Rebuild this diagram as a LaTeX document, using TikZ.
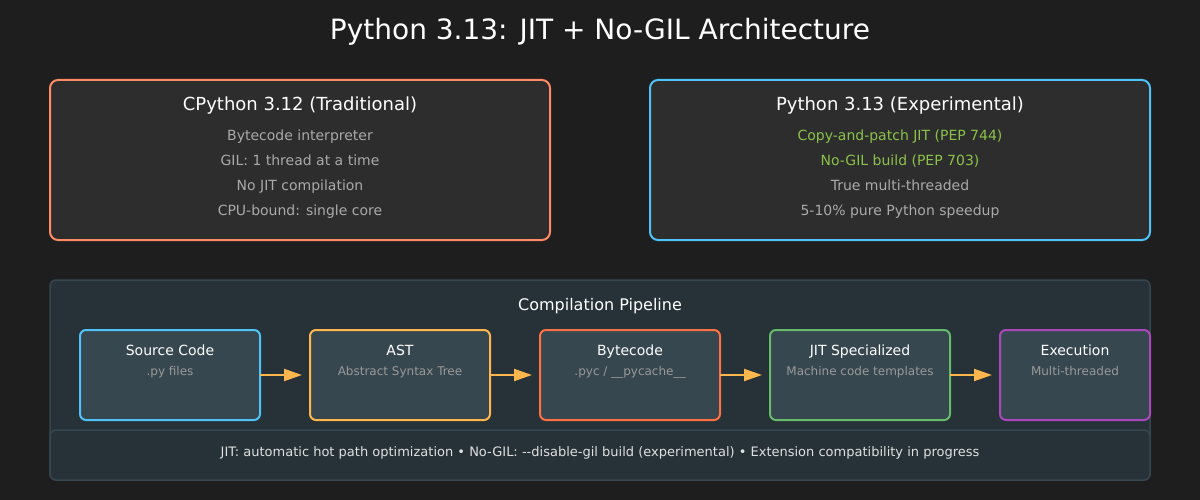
\documentclass[tikz,border=0pt]{standalone}
\usepackage{fontspec}
\setmainfont{DejaVu Sans}
\usetikzlibrary{arrows.meta}
\definecolor{bg}{HTML}{1E1E1E}
\definecolor{panel}{HTML}{2D2D2D}
\definecolor{pipe}{HTML}{263238}
\definecolor{pipeline}{HTML}{37474F}
\definecolor{stagefill}{HTML}{37474F}
\definecolor{cold}{HTML}{FF8A65}
\definecolor{cnew}{HTML}{4FC3F7}
\definecolor{cast}{HTML}{FFB74D}
\definecolor{cbyte}{HTML}{FF7043}
\definecolor{cjit}{HTML}{66BB6A}
\definecolor{cexec}{HTML}{AB47BC}
\definecolor{greentxt}{HTML}{8BC34A}
\definecolor{greytxt}{HTML}{AAAAAA}
\definecolor{subtxt}{HTML}{999999}
\definecolor{foottxt}{HTML}{E0E0E0}
\definecolor{arrowc}{HTML}{FFB74D}
\tikzset{
  panelbox/.style={draw=#1, line width=2pt, fill=panel, rounded corners=8pt},
  stagebox/.style={draw=#1, line width=2pt, fill=stagefill, rounded corners=6pt},
  ttl/.style={anchor=base, text=white, font=\fontsize{28}{32}\selectfont, inner sep=0pt},
  ptitle/.style={anchor=base, text=white, font=\fontsize{18}{21}\selectfont, inner sep=0pt},
  pline/.style={anchor=base, text=greytxt, font=\fontsize{14}{17}\selectfont, inner sep=0pt},
  pipetitle/.style={anchor=base, text=white, font=\fontsize{16}{19}\selectfont, inner sep=0pt},
  stitle/.style={anchor=base, text=white, font=\fontsize{14}{17}\selectfont, inner sep=0pt},
  ssub/.style={anchor=base, text=subtxt, font=\fontsize{12}{14}\selectfont, inner sep=0pt},
  foottext/.style={anchor=base, text=foottxt, font=\fontsize{13}{16}\selectfont, inner sep=0pt},
  flow/.style={draw=arrowc, line width=2pt, -{Triangle[length=18pt,width=12pt]}},
}
\begin{document}
\begin{tikzpicture}[x=1pt,y=-1pt]
\fill[bg] (0,0) rectangle (1200,500);
\useasboundingbox (0,0) rectangle (1200,500);

\node[ttl] (title) at (600,40) {Python 3.13: JIT + No-GIL Architecture};

% left panel
\draw[panelbox=cold] (50,80) rectangle (550,240);
\node[ptitle] (lt) at (300,110.5) {CPython 3.12 (Traditional)};
\node[pline] (l1) at (300,140.5) {Bytecode interpreter};
\node[pline] (l2) at (300,165.5) {GIL: 1 thread at a time};
\node[pline] (l3) at (300,190.5) {No JIT compilation};
\node[pline] (l4) at (300,215.5) {CPU-bound: single core};

% right panel
\draw[panelbox=cnew] (650,80) rectangle (1150,240);
\node[ptitle] (rt) at (900,110.5) {Python 3.13 (Experimental)};
\node[pline, text=greentxt] (r1) at (900,140.5) {Copy-and-patch JIT (PEP 744)};
\node[pline, text=greentxt] (r2) at (900,165.5) {No-GIL build (PEP 703)};
\node[pline] (r3) at (900,190.5) {True multi-threaded};
\node[pline] (r4) at (900,215.5) {5-10\% pure Python speedup};

% pipeline container
\draw[fill=pipe, draw=pipeline, line width=1.5pt, rounded corners=6pt] (50,280) rectangle (1150,480);
\node[pipetitle] (pt) at (600,310) {Compilation Pipeline};

% stages
\draw[stagebox=cnew] (80,330) rectangle (260,420);
\node[stitle] (s1) at (170,355) {Source Code};
\node[ssub] (s1s) at (170,375) {.py files};
\coordinate (s1r) at (260,375);

\draw[stagebox=cast] (310,330) rectangle (490,420);
\node[stitle] (s2) at (400,355) {AST};
\node[ssub] (s2s) at (400,375) {Abstract Syntax Tree};
\coordinate (s2l) at (302,375);
\coordinate (s2r) at (490,375);

\draw[stagebox=cbyte] (540,330) rectangle (720,420);
\node[stitle] (s3) at (630,355) {Bytecode};
\node[ssub] (s3s) at (630,375) {.pyc / \_\_pycache\_\_};
\coordinate (s3l) at (532,375);
\coordinate (s3r) at (720,375);

\draw[stagebox=cjit] (770,330) rectangle (950,420);
\node[stitle] (s4) at (860,355) {JIT Specialized};
\node[ssub] (s4s) at (860,375) {Machine code templates};
\coordinate (s4l) at (762,375);
\coordinate (s4r) at (950,375);

\draw[stagebox=cexec] (1000,330) rectangle (1150,420);
\node[stitle] (s5) at (1075,355) {Execution};
\node[ssub] (s5s) at (1075,375) {Multi-threaded};
\coordinate (s5l) at (992,375);

\draw[flow] (s1r) -- (s2l);
\draw[flow] (s2r) -- (s3l);
\draw[flow] (s3r) -- (s4l);
\draw[flow] (s4r) -- (s5l);

% footer band
\draw[fill=pipe, draw=pipeline, line width=1.5pt, rounded corners=6pt] (50,430) rectangle (1150,480);
\node[foottext] (foot) at (600,456) {JIT: automatic hot path optimization • No-GIL: -{}-disable-gil build (experimental) • Extension compatibility in progress};
\end{tikzpicture}
\end{document}
